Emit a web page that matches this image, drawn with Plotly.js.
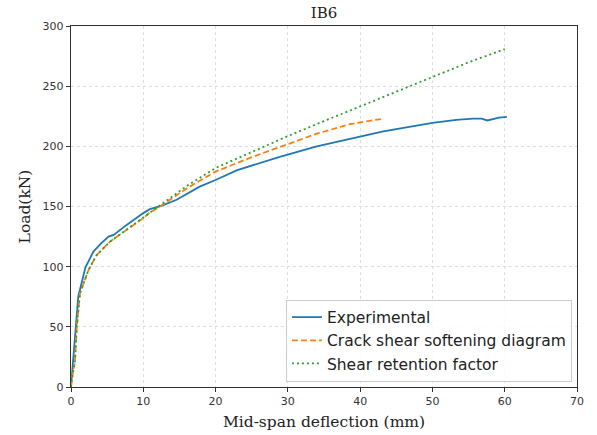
<!DOCTYPE html>
<html>
<head>
<meta charset="utf-8">
<script src="https://cdn.plot.ly/plotly-3.0.1.min.js"></script>
<style>html,body{margin:0;padding:0;background:#fff;}#chart{width:597px;height:435px;}</style>
</head>
<body>
<div id="chart"></div>
<script>
const expX = [0, 0.3, 1.0, 2.0, 3.1, 4.2, 5.2, 5.9, 7.7, 10.0, 10.9, 12.5, 14.6, 17.8, 20.0, 22.9, 26.1, 29.0, 34.0, 40.0, 43.2, 50.0, 53.3, 55.6, 56.8, 57.6, 58.4, 59.2, 60.3];
const expY = [0, 22, 75, 99.5, 112.5, 119.5, 125, 126.4, 134.7, 144.5, 147.8, 150.5, 155.6, 166.5, 172, 180, 186, 191.5, 200, 208.3, 212.5, 219.5, 222, 223, 223, 221.5, 222.8, 223.8, 224.5];

const crackX = [0, 0.1, 0.55, 0.8, 1.24, 2.4, 3.55, 5.4, 7.7, 10.0, 10.9, 12.3, 16.0, 20.0, 25.0, 30.0, 34.0, 38.6, 43.0];
const crackY = [0, 5.6, 22, 50, 77.8, 97, 109.7, 120.8, 130.6, 140.3, 145, 150, 165, 179, 191, 202, 210.5, 218.5, 222.8];

const shearX = [0, 0.1, 0.55, 0.8, 1.24, 2.4, 3.55, 5.4, 7.7, 10.0, 12.3, 16.0, 20.0, 25.0, 30.0, 35.0, 40.0, 45.0, 50.0, 55.0, 60.0];
const shearY = [0, 5.6, 22, 50, 77.8, 97, 109.7, 120.8, 130.8, 141, 151, 167, 182, 195.5, 208.5, 221, 233.3, 245.8, 258, 269.8, 280.8];

const xTicks = [0, 10, 20, 30, 40, 50, 60, 70];
const yTicks = [0, 50, 100, 150, 200, 250, 300];

const traces = [
  {x: expX, y: expY, type: 'scatter', mode: 'lines', name: 'Experimental',
   line: {color: '#1f77b4', width: 1.8}},
  {x: crackX, y: crackY, type: 'scatter', mode: 'lines', name: 'Crack shear softening diagram',
   line: {color: '#ff7f0e', width: 1.8, dash: '6px,3px'}},
  {x: shearX, y: shearY, type: 'scatter', mode: 'lines', name: 'Shear retention factor',
   line: {color: '#2ca02c', width: 1.8, dash: '2px,3px'}}
];

const gridStyle = {showgrid: true, gridcolor: '#dedede', griddash: '3px,3px', gridwidth: 1};

const layout = {
  width: 597, height: 435,
  margin: {l: 71, r: 20, t: 26, b: 48},
  paper_bgcolor: '#fff', plot_bgcolor: '#fff',
  title: {text: 'IB6', font: {family: 'DejaVu Serif', size: 15, color: '#222'}, x: 0.5, xref: 'paper', y: 0.97, yanchor: 'middle'},
  font: {family: 'DejaVu Sans', size: 11, color: '#333'},
  xaxis: Object.assign({
    range: [0, 70], tickvals: xTicks, ticktext: xTicks.map(String),
    ticks: 'outside', ticklen: 4, tickcolor: '#333',
    showline: true, linecolor: '#333', linewidth: 1.2, mirror: true, zeroline: false,
    title: {text: 'Mid-span deflection (mm)', font: {family: 'DejaVu Serif', size: 15.5, color: '#222'}, standoff: 8}
  }, gridStyle),
  yaxis: Object.assign({
    range: [0, 300], tickvals: yTicks, ticktext: yTicks.map(String),
    ticks: 'outside', ticklen: 4, tickcolor: '#333',
    showline: true, linecolor: '#333', linewidth: 1.2, mirror: true, zeroline: false,
    title: {text: 'Load(kN)', font: {family: 'DejaVu Serif', size: 15.5, color: '#222'}, standoff: 8}
  }, gridStyle),
  legend: {
    x: 0.99, y: 0.015, xanchor: 'right', yanchor: 'bottom',
    bgcolor: 'rgba(255,255,255,0.85)', bordercolor: '#cccccc', borderwidth: 1,
    font: {family: 'DejaVu Sans', size: 15.5, color: '#222'},
    itemwidth: 30, tracegroupgap: 0
  },
  showlegend: true
};

Plotly.newPlot('chart', traces, layout, {staticPlot: true, displayModeBar: false});
</script>
</body>
</html>
